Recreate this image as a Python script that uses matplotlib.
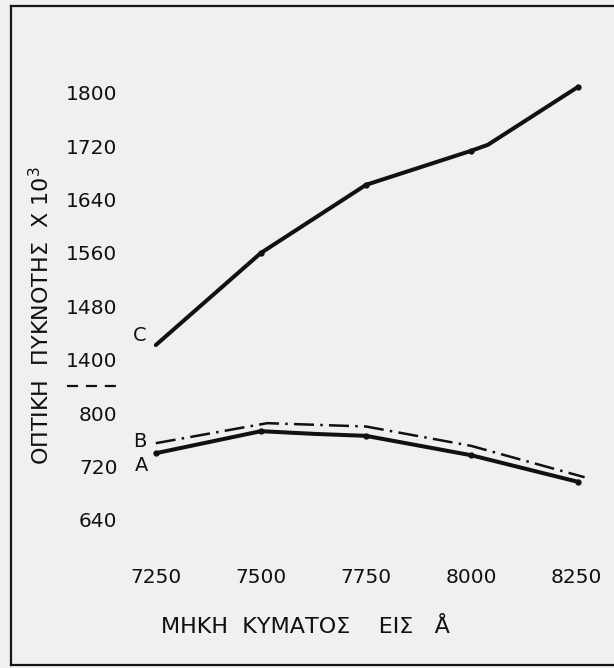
import numpy as np
import matplotlib.pyplot as plt
from matplotlib.lines import Line2D

plt.rcParams['font.family'] = ['DejaVu Sans']

# wavelength (Angstrom) and optical density x 10^3
x_a = [7250, 7500, 7625, 7750, 8000, 8255]
y_a = [740, 773, 769, 766, 737, 697]
x_b = [7250, 7515, 7750, 8000, 8270]
y_b = [755, 785, 780, 751, 704]
x_c = [7250, 7500, 7750, 8000, 8040, 8255]
y_c = [1422, 1560, 1662, 1713, 1722, 1809]

x_ticks = [7250, 7500, 7750, 8000, 8250]
y_ticks = [640, 720, 800, 1400, 1480, 1560, 1640, 1720, 1800]


def fwd(v):
    v = np.asarray(v, dtype=float)
    return np.where(v >= 1400, 3 + (v - 1400) / 80,
                    np.where(v <= 800, (v - 640) / 80, 2 + (v - 800) / 600))


def inv(k):
    k = np.asarray(k, dtype=float)
    return np.where(k >= 3, 1400 + (k - 3) * 80,
                    np.where(k <= 2, 640 + k * 80, 800 + (k - 2) * 600))


W, H = 614, 668
fig = plt.figure(figsize=(W / 100, H / 100), dpi=100)
fig.patch.set_facecolor('#f0f0ee')

# axes placed in pixel terms
l, r, t, b = 130, 600, 60, 540
ax = fig.add_axes([l / W, 1 - b / H, (r - l) / W, (b - t) / H])
ax.set_facecolor('none')
ax.set_yscale('function', functions=(fwd, inv))
ax.set_xlim(7188.6, 8306.6)
ax.set_ylim(610, 1849)
for s in ax.spines.values():
    s.set_visible(False)

ax.plot(x_c, y_c, color='#111111', lw=2.9, marker='o', ms=3.5, markevery=[1, 2, 3, 5],
        solid_capstyle='round', solid_joinstyle='round')
ax.plot(x_a, y_a, color='#111111', lw=2.9, marker='o', ms=3.5, markevery=[0, 1, 3, 4, 5],
        solid_capstyle='round', solid_joinstyle='round')
ax.plot(x_b, y_b, color='#111111', lw=1.8, linestyle=(0, (8, 2.5, 1, 2.5)))

ax.text(7211, 1436, 'C', fontsize=14, ha='center', va='center', color='#111111')
ax.text(7213, 757, 'B', fontsize=14, ha='center', va='center', color='#111111')
ax.text(7215, 722, 'A', fontsize=14, ha='center', va='center', color='#111111')

ax.set_xticks(x_ticks)
ax.set_xticklabels([str(v) for v in x_ticks])
ax.set_yticks(y_ticks)
ax.set_yticklabels([str(v) for v in y_ticks])
ax.yaxis.set_minor_locator(plt.NullLocator())
ax.tick_params(axis='both', length=0, labelsize=14.5, colors='#111111')
ax.tick_params(axis='y', pad=9)
ax.tick_params(axis='x', pad=20)

# break marker between 800 and 1400
ax.plot([-0.134, -0.023], [1100, 1100], transform=ax.get_yaxis_transform(), clip_on=False,
        color='#111111', lw=1.6, linestyle=(0, (5, 3.5)))

fig.text(41 / W, 1 - 316 / H, 'ΟΠΤΙΚΗ  ΠΥΚΝΟΤΗΣ  Χ 10$^3$', rotation=90,
         ha='center', va='center', fontsize=16, color='#111111')
fig.text(305 / W, 1 - 627 / H, 'ΜΗΚΗ  ΚΥΜΑΤΟΣ    ΕΙΣ   Å',
         ha='center', va='center', fontsize=16, color='#111111')

# frame around the figure
fr = dict(color='#151515', lw=1.6, transform=fig.transFigure)
fig.add_artist(Line2D([11 / W, 11 / W], [1 - 6 / H, 1 - 665 / H], **fr))
fig.add_artist(Line2D([11 / W, 1.0], [1 - 6 / H, 1 - 6 / H], **fr))
fig.add_artist(Line2D([11 / W, 1.0], [1 - 665 / H, 1 - 665 / H], **fr))

fig.savefig('out.png', dpi=100, facecolor=fig.get_facecolor())
